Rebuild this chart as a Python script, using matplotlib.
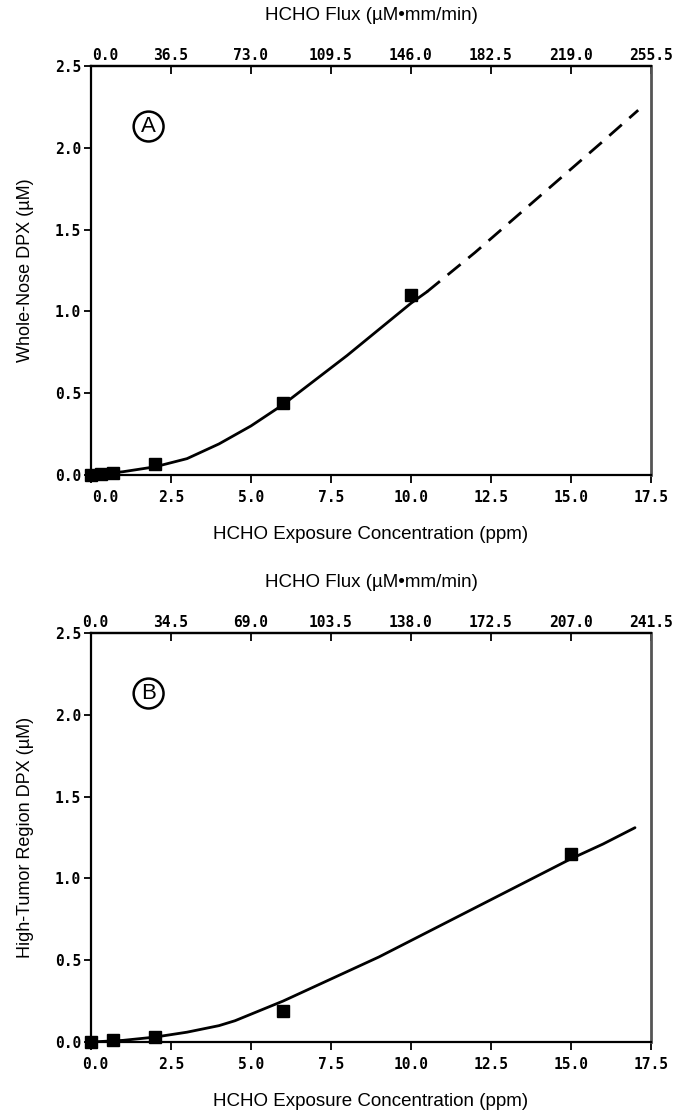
import matplotlib.pyplot as plt
from matplotlib.transforms import ScaledTranslation

# panel A - whole nose
a_pts_x = [0.0, 0.3, 0.7, 2.0, 6.0, 10.0]
a_pts_y = [0.0, 0.005, 0.01, 0.07, 0.44, 1.10]
a_fit_x = [0, 1, 2, 3, 4, 5, 6, 7, 8, 9, 10, 10.5]
a_fit_y = [0.0, 0.02, 0.05, 0.10, 0.19, 0.30, 0.43, 0.58, 0.73, 0.89, 1.05, 1.12]
a_ext_x = [10.5, 11, 12, 13, 14, 15, 16, 17.1]
a_ext_y = [1.12, 1.20, 1.36, 1.53, 1.70, 1.87, 2.04, 2.23]
a_flux = ["0.0", "36.5", "73.0", "109.5", "146.0", "182.5", "219.0", "255.5"]

# panel B - high tumor region
b_pts_x = [0.0, 0.7, 2.0, 6.0, 15.0]
b_pts_y = [0.0, 0.01, 0.03, 0.19, 1.15]
b_fit_x = [0, 1, 2, 3, 4, 4.5, 5, 6, 7, 8, 9, 10, 11, 12, 13, 14, 15, 16, 17]
b_fit_y = [0.0, 0.01, 0.03, 0.06, 0.10, 0.13, 0.17, 0.25, 0.34, 0.43, 0.52,
           0.62, 0.72, 0.82, 0.92, 1.02, 1.12, 1.21, 1.31]
b_flux = ["0.0", "34.5", "69.0", "103.5", "138.0", "172.5", "207.0", "241.5"]

xticks = [0, 2.5, 5, 7.5, 10, 12.5, 15, 17.5]
yticks = [0, 0.5, 1.0, 1.5, 2.0, 2.5]

W, H = 682, 1112
fig = plt.figure(figsize=(W / 100, H / 100), dpi=100)

mono = "DejaVu Sans Mono"
sans = "Liberation Sans"


def panel(top, letter, px, py, fx, fy, ex, ey, flux, ylabel, shift0):
    ax = fig.add_axes([91 / W, 1 - (top + 409) / H, 560 / W, 409 / H])
    ax.plot(fx, fy, color="black", lw=2.0, solid_capstyle="round")
    if ex is not None:
        ax.plot(ex, ey, color="black", lw=2.0, dashes=(6, 3.6))
    ax.plot(px, py, "s", color="black", ms=9, clip_on=False, zorder=5)
    ax.set_xlim(0, 17.5)
    ax.set_ylim(0, 2.5)
    ax.set_xticks(xticks)
    ax.set_xticklabels(["%.1f" % t for t in xticks], family=mono,
                       fontsize=10.5, fontweight="bold")
    ax.set_yticks(yticks)
    ax.set_yticklabels(["%.1f" % t for t in yticks], family=mono,
                       fontsize=10.5, fontweight="bold")
    ax.tick_params(axis="x", direction="out", length=6, width=1.3, pad=5)
    ax.tick_params(axis="y", direction="out", length=5, width=1.3, pad=2)
    for s in ["left", "bottom", "top"]:
        ax.spines[s].set_linewidth(1.6)
    ax.spines["right"].set_linewidth(2.0)
    ax.spines["right"].set_color("#555555")
    ax.set_xlabel("HCHO Exposure Concentration (ppm)", family=sans,
                  fontsize=13.5, labelpad=15)
    ax.set_ylabel(ylabel, family=sans, fontsize=13, labelpad=15)

    top_ax = ax.secondary_xaxis("top")
    top_ax.set_xticks(xticks)
    top_ax.set_xticklabels(flux, family=mono, fontsize=10.5, fontweight="bold")
    top_ax.tick_params(direction="in", length=6, width=1.3, pad=2)
    top_ax.spines["top"].set_linewidth(1.6)
    top_ax.set_xlabel("HCHO Flux (\u00b5M\u2022mm/min)", family=sans,
                      fontsize=13.5, labelpad=20)

    if shift0:
        off = ScaledTranslation(shift0 / 100, 0, fig.dpi_scale_trans)
        for lab in (ax.get_xticklabels()[0], top_ax.get_xticklabels()[0]):
            lab.set_transform(lab.get_transform() + off)

    ax.text(1.8, 2.13, letter, family=sans, fontsize=16, ha="center",
            va="center",
            bbox=dict(boxstyle="circle,pad=0.2", fc="white", ec="black",
                      lw=1.8))
    return ax


panel(66, "A", a_pts_x, a_pts_y, a_fit_x, a_fit_y, a_ext_x, a_ext_y,
      a_flux, "Whole-Nose DPX (\u00b5M)", 14)
panel(633, "B", b_pts_x, b_pts_y, b_fit_x, b_fit_y, None, None,
      b_flux, "High-Tumor Region DPX (\u00b5M)", 4)

fig.savefig("out.png", dpi=100)
